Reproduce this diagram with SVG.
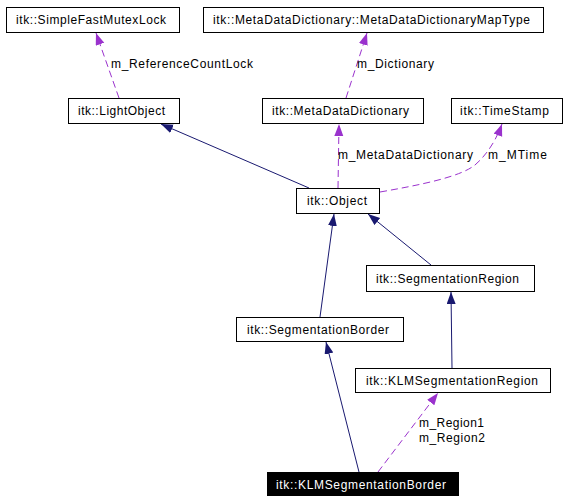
<svg xmlns="http://www.w3.org/2000/svg" width="571" height="501" viewBox="0 0 571 501">
<style>
.box{fill:#fff;stroke:#000;stroke-width:1}
.t{font-family:"Liberation Sans",Arial,sans-serif;font-size:12px;fill:#000}
.inh{fill:none;stroke:#191970;stroke-width:1}
.use{fill:none;stroke:#9a32cd;stroke-width:1;stroke-dasharray:7,4}
</style>
<defs>
<marker id="an" markerUnits="userSpaceOnUse" markerWidth="13" markerHeight="10" refX="12" refY="4.5" orient="auto"><path d="M0,0 L12,4.5 L0,9 z" fill="#191970"/></marker>
<marker id="ap" markerUnits="userSpaceOnUse" markerWidth="13" markerHeight="10" refX="12" refY="4.5" orient="auto"><path d="M0,0 L12,4.5 L0,9 z" fill="#9a32cd"/></marker>
</defs>
<rect width="571" height="501" fill="#fff"/>
<g id="connectors">
<path class="use" d="M119,98 L96,33" marker-end="url(#ap)"/>
<path class="use" d="M346,98 L367,33" marker-end="url(#ap)"/>
<path class="use" d="M338,188 L339,124" marker-end="url(#ap)"/>
<path class="use" d="M380,192 C420,185 460,177 475,165 C490,152 498,135 502,124" marker-end="url(#ap)"/>
<path class="inh" d="M309,188 L161,124" marker-end="url(#an)"/>
<path class="inh" d="M320,317 L334,214" marker-end="url(#an)"/>
<path class="inh" d="M431,265 L368,214" marker-end="url(#an)"/>
<path class="inh" d="M452,368 L451,292" marker-end="url(#an)"/>
<path class="inh" d="M359,472 L326,342" marker-end="url(#an)"/>
<path class="use" d="M378,472 L438,393" marker-end="url(#ap)"/>
<text class="t" x="111" y="68" textLength="142" lengthAdjust="spacing">m_ReferenceCountLock</text>
<text class="t" x="357" y="68" textLength="77" lengthAdjust="spacing">m_Dictionary</text>
<text class="t" x="338" y="159" textLength="135" lengthAdjust="spacing">m_MetaDataDictionary</text>
<text class="t" x="488" y="159" textLength="59" lengthAdjust="spacing">m_MTime</text>
<text class="t" x="419" y="427" textLength="65" lengthAdjust="spacing">m_Region1</text>
<text class="t" x="419" y="442" textLength="66" lengthAdjust="spacing">m_Region2</text>
</g>
<g id="SimpleFastMutexLock"><rect class="box" x="6.5" y="7.5" width="173" height="25"/><text class="t" x="16" y="24" textLength="150" lengthAdjust="spacing">itk::SimpleFastMutexLock</text></g>
<g id="MetaDataDictionaryMapType"><rect class="box" x="203.5" y="7.5" width="340" height="25"/><text class="t" x="213" y="24" textLength="317" lengthAdjust="spacing">itk::MetaDataDictionary::MetaDataDictionaryMapType</text></g>
<g id="LightObject"><rect class="box" x="68.5" y="98.5" width="111" height="25"/><text class="t" x="78" y="115" textLength="87" lengthAdjust="spacing">itk::LightObject</text></g>
<g id="MetaDataDictionary"><rect class="box" x="262.5" y="98.5" width="161" height="25"/><text class="t" x="272" y="115" textLength="137" lengthAdjust="spacing">itk::MetaDataDictionary</text></g>
<g id="TimeStamp"><rect class="box" x="451.5" y="98.5" width="111" height="25"/><text class="t" x="460" y="115" textLength="89" lengthAdjust="spacing">itk::TimeStamp</text></g>
<g id="Object"><rect class="box" x="296.5" y="188.5" width="83" height="25"/><text class="t" x="307" y="205" textLength="60" lengthAdjust="spacing">itk::Object</text></g>
<g id="SegmentationRegion"><rect class="box" x="366.5" y="265.5" width="168" height="26"/><text class="t" x="376" y="283" textLength="143" lengthAdjust="spacing">itk::SegmentationRegion</text></g>
<g id="SegmentationBorder"><rect class="box" x="236.5" y="317.5" width="167" height="24"/><text class="t" x="247" y="334" textLength="142" lengthAdjust="spacing">itk::SegmentationBorder</text></g>
<g id="KLMSegmentationRegion"><rect class="box" x="355.5" y="368.5" width="195" height="24"/><text class="t" x="366" y="385" textLength="172" lengthAdjust="spacing">itk::KLMSegmentationRegion</text></g>
<g id="KLMSegmentationBorder"><rect x="267" y="472" width="192" height="24" fill="#000"/><text class="t" x="276" y="489" textLength="170" lengthAdjust="spacing" style="fill:#fff">itk::KLMSegmentationBorder</text></g>
</svg>
